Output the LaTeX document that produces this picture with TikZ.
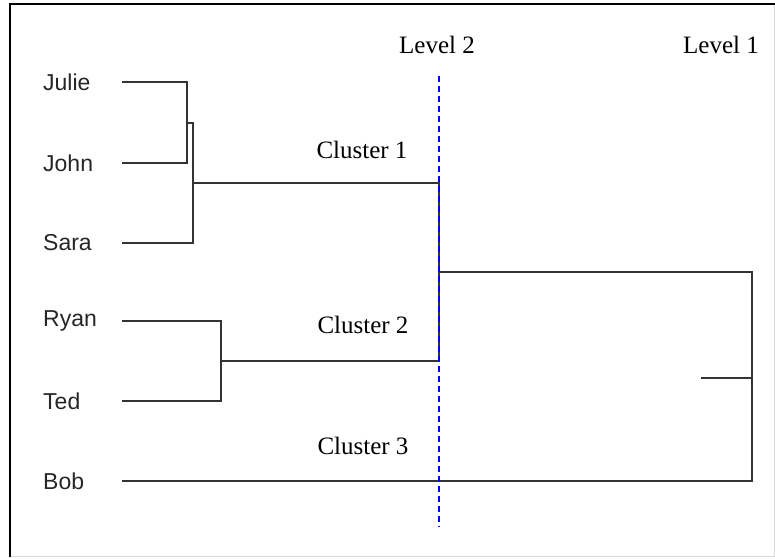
\documentclass[tikz,border=0pt]{standalone}
\usepackage{fontspec}
\setmainfont{Liberation Serif}
\newfontfamily\namefont{Liberation Sans}
\begin{document}
\begin{tikzpicture}[x=1pt,y=-1pt,
  branch/.style={draw=black!80,line width=1.6pt},
  namelabel/.style={font=\namefont\fontsize{23}{26}\selectfont,text=black!85,anchor=west,inner sep=0pt},
  levellabel/.style={font=\fontsize{25}{29}\selectfont,inner sep=0pt},
  clusterlabel/.style={font=\fontsize{25}{29}\selectfont,inner sep=0pt},
  cutline/.style={draw=blue,line width=1.3pt,dash pattern=on 6pt off 4pt}]
\useasboundingbox (0,0) rectangle (775,558);
\fill[white] (0,0) rectangle (775,558);
% frame
\draw[black!15,line width=1pt] (10,556) -- (774,556) -- (774,4);
\draw[black,line width=2.5pt] (10,557) -- (10,4) -- (775,4);
% names
\node[namelabel] (julie) at (43,82) {Julie};
\node[namelabel] (john) at (43,163) {John};
\node[namelabel] (sara) at (43,243) {Sara};
\node[namelabel] (ryan) at (43,321) {Ryan};
\node[namelabel] (ted) at (43,401) {Ted};
\node[namelabel] (bob) at (43,481) {Bob};
% coordinates
\coordinate (juliee) at (122,82);
\coordinate (johne) at (122,163);
\coordinate (sarae) at (122,243);
\coordinate (ryane) at (122,321);
\coordinate (tede) at (122,401);
\coordinate (bobe) at (122,481);
\coordinate (jj) at (187,123);
\coordinate (c1) at (193,183);
\coordinate (c2) at (221,361);
\coordinate (l2) at (439,272);
\coordinate (l1) at (752,378);
\coordinate (stub) at (701,378);
% branches
\draw[branch] (juliee) -- (187,82) -- (187,163) -- (johne);
\draw[branch] (jj) -- (193,123) -- (193,243) -- (sarae);
\draw[branch] (c1) -- (439,183) -- (439,361) -- (c2);
\draw[branch] (ryane) -- (221,321) -- (221,401) -- (tede);
\draw[branch] (l2) -- (752,272) -- (752,481) -- (bobe);
\draw[branch] (stub) -- (l1);
% cut line
\coordinate (cuttop) at (439,76);
\coordinate (cutbot) at (439,527);
\draw[cutline] (cuttop) -- (cutbot);
% labels
\node[levellabel] (lev2) at (437,45) {Level 2};
\node[levellabel] (lev1) at (721,45) {Level 1};
\node[clusterlabel] (cl1) at (362,150) {Cluster 1};
\node[clusterlabel] (cl2) at (363,325) {Cluster 2};
\node[clusterlabel] (cl3) at (363,446) {Cluster 3};
\end{tikzpicture}
\end{document}
